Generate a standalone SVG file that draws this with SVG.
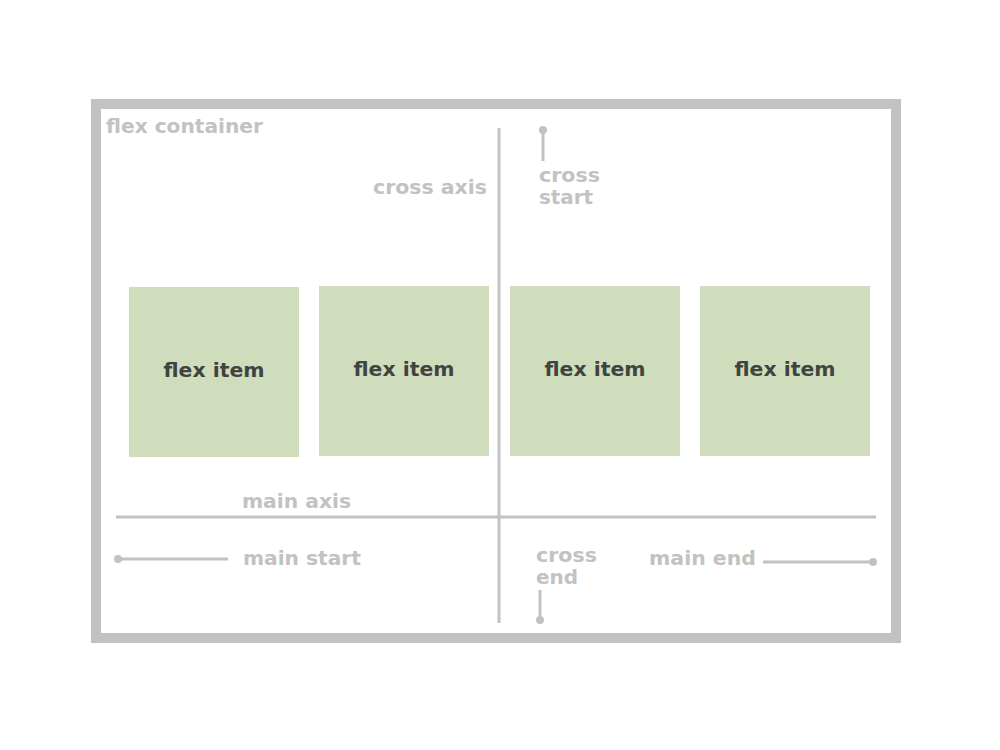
<svg xmlns="http://www.w3.org/2000/svg" width="1000" height="750" viewBox="0 0 1000 750">
<style>
.lbl{font-family:"DejaVu Sans","Liberation Sans",sans-serif;font-weight:bold;font-size:19px;fill:#c2c2c2}
.item rect{fill:#d0ddbd}
.item text{font-family:"DejaVu Sans","Liberation Sans",sans-serif;font-weight:bold;font-size:20px;fill:#3f4440;text-anchor:middle}
.ln{stroke:#c2c2c2;stroke-width:3;fill:none}
.dot{fill:#c2c2c2}
</style>
<rect width="1000" height="750" fill="#ffffff"/>
<g id="container">
<rect x="96" y="104" width="800" height="534" fill="#ffffff" stroke="#c2c2c2" stroke-width="10"/>
<text class="lbl" x="106" y="133" textLength="157" lengthAdjust="spacingAndGlyphs">flex container</text>
</g>
<g id="item1" class="item"><rect x="129" y="287" width="170" height="170"/><text x="214" y="377" textLength="101" lengthAdjust="spacingAndGlyphs">flex item</text></g>
<g id="item2" class="item"><rect x="319" y="286" width="170" height="170"/><text x="404" y="376" textLength="101" lengthAdjust="spacingAndGlyphs">flex item</text></g>
<g id="item3" class="item"><rect x="510" y="286" width="170" height="170"/><text x="595" y="376" textLength="101" lengthAdjust="spacingAndGlyphs">flex item</text></g>
<g id="item4" class="item"><rect x="700" y="286" width="170" height="170"/><text x="785" y="376" textLength="101" lengthAdjust="spacingAndGlyphs">flex item</text></g>
<g id="connectors">
<line class="ln" x1="499" y1="128" x2="499" y2="623"/>
<line class="ln" x1="116" y1="517" x2="876" y2="517"/>
<line class="ln" x1="543" y1="130" x2="543" y2="161"/>
<circle class="dot" cx="543" cy="130" r="4"/>
<line class="ln" x1="118" y1="559" x2="228" y2="559"/>
<circle class="dot" cx="118" cy="559" r="4"/>
<line class="ln" x1="540" y1="590" x2="540" y2="620"/>
<circle class="dot" cx="540" cy="620" r="4"/>
<line class="ln" x1="763" y1="562" x2="873" y2="562"/>
<circle class="dot" cx="873" cy="562" r="4"/>
</g>
<g id="labels">
<text class="lbl" x="373" y="194" textLength="114" lengthAdjust="spacingAndGlyphs">cross axis</text>
<text class="lbl" x="539" y="182" textLength="61" lengthAdjust="spacingAndGlyphs">cross</text>
<text class="lbl" x="539" y="204" textLength="54" lengthAdjust="spacingAndGlyphs">start</text>
<text class="lbl" x="242" y="508" textLength="109" lengthAdjust="spacingAndGlyphs">main axis</text>
<text class="lbl" x="243" y="565" textLength="118" lengthAdjust="spacingAndGlyphs">main start</text>
<text class="lbl" x="536" y="562" textLength="61" lengthAdjust="spacingAndGlyphs">cross</text>
<text class="lbl" x="536" y="584" textLength="42" lengthAdjust="spacingAndGlyphs">end</text>
<text class="lbl" x="649" y="565" textLength="107" lengthAdjust="spacingAndGlyphs">main end</text>
</g>
</svg>
